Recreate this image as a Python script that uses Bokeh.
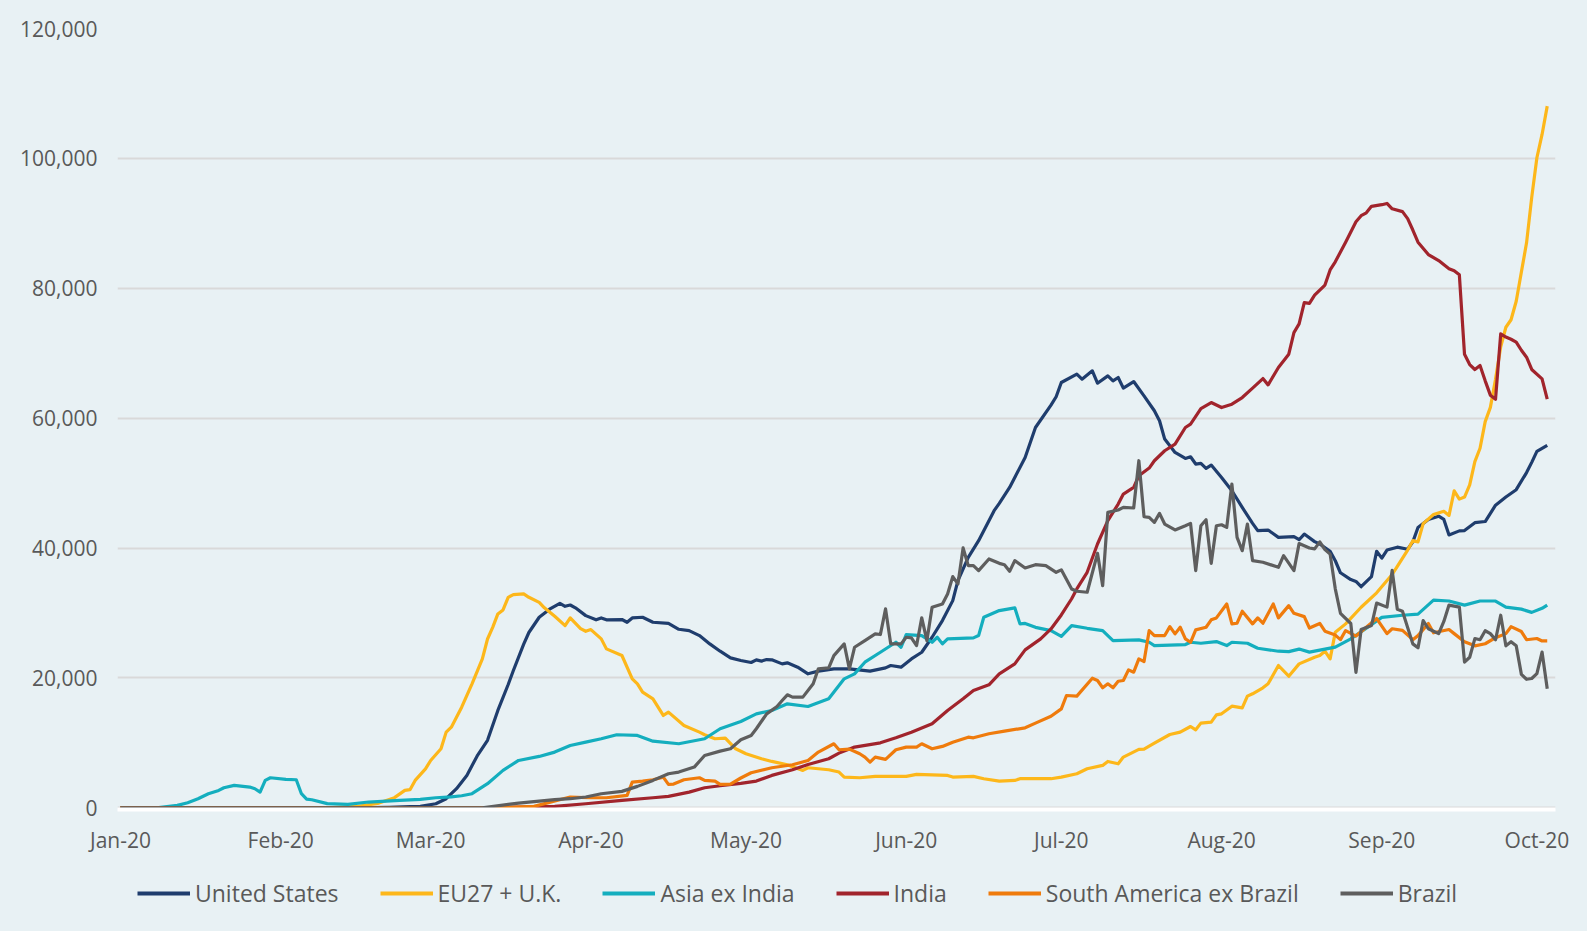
import numpy as np
import pandas as pd
from bokeh.plotting import figure
from bokeh.layouts import column
from bokeh.models import (Range1d, Legend, LegendItem, NumeralTickFormatter,
                          DatetimeTickFormatter, FixedTicker)
from bokeh.embed import file_html
from bokeh.resources import INLINE

# ---------------- data (day 0 = 2020-01-01), daily new cases ----------------
us_day = [0, 45, 52, 56, 58, 61, 63, 65, 67, 69, 71, 73, 75, 76, 78, 79, 81, 83, 85, 86, 87, 88, 90, 92, 93, 94, 97, 98, 99, 101, 103, 106, 108, 110, 112, 114, 116, 118, 120, 122, 123, 124, 125, 126, 128, 129, 131, 133, 135, 138, 141, 145, 148, 149, 151, 153, 155, 157, 159, 161, 162, 164, 166, 169, 170, 172, 175, 177, 180, 181, 182, 185, 186, 188, 189, 191, 192, 193, 194, 196, 198, 200, 201, 202, 204, 206, 207, 208, 209, 210, 211, 213, 215, 217, 219, 220, 222, 224, 227, 228, 229, 231, 232, 234, 235, 236, 238, 239, 240, 242, 243, 244, 245, 247, 249, 250, 251, 253, 255, 256, 257, 259, 260, 262, 264, 266, 268, 270, 272, 273, 274, 276]
us_val = [0, 0, 100, 200, 230, 640, 1410, 2950, 5000, 8000, 10400, 15000, 19000, 21150, 25200, 27000, 29350, 30600, 31500, 31040, 31240, 30800, 29600, 28950, 29250, 28950, 29000, 28580, 29250, 29350, 28580, 28420, 27500, 27300, 26530, 25250, 24120, 23100, 22700, 22380, 22790, 22600, 22840, 22800, 22170, 22330, 21660, 20640, 21050, 21410, 21410, 21050, 21560, 21920, 21660, 22940, 23960, 26270, 28840, 31910, 35000, 38570, 41140, 45760, 46880, 49340, 53950, 58570, 62000, 63300, 65490, 66780, 66010, 67290, 65390, 66520, 65750, 66270, 64630, 65640, 63440, 61140, 59600, 56780, 54720, 53800, 54060, 52940, 53040, 52260, 52780, 50880, 48830, 46260, 43800, 42680, 42780, 41650, 41750, 41290, 42160, 41000, 40620, 39500, 38050, 36200, 35150, 34870, 34050, 35600, 39510, 38450, 39700, 40140, 39820, 40960, 43160, 44410, 44910, 44410, 42020, 42650, 42700, 43910, 44090, 46600, 47860, 48990, 51630, 53200, 54890, 55830]

eu_day = [0, 40, 46, 50, 53, 55, 56, 57, 59, 60, 62, 63, 64, 66, 68, 70, 71, 72, 73, 74, 75, 76, 78, 79, 81, 82, 84, 86, 87, 89, 90, 91, 93, 94, 97, 99, 100, 101, 103, 105, 106, 109, 112, 113, 115, 117, 119, 121, 124, 126, 129, 132, 133, 137, 139, 140, 143, 146, 152, 154, 160, 161, 165, 167, 170, 173, 174, 180, 182, 185, 187, 190, 191, 193, 194, 197, 198, 200, 203, 205, 207, 208, 209, 211, 212, 213, 215, 217, 218, 219, 221, 222, 224, 226, 228, 231, 232, 233, 234, 235, 237, 240, 243, 246, 247, 249, 250, 251, 252, 254, 256, 257, 258, 259, 260, 261, 262, 263, 264, 265, 266, 267, 268, 269, 270, 271, 272, 273, 274, 275, 276]
eu_val = [0, 0, 230, 740, 1570, 2690, 2800, 4230, 6000, 7300, 9100, 11660, 12430, 15500, 19100, 22940, 26000, 27800, 29860, 30480, 32420, 32840, 32940, 32420, 31650, 30800, 29500, 28070, 29250, 27600, 27190, 27450, 26020, 24480, 23460, 19870, 19100, 17810, 16790, 14230, 14740, 12690, 11660, 11260, 10640, 10740, 9100, 8330, 7560, 7150, 6640, 5770, 6180, 5870, 5520, 4740, 4640, 4850, 4850, 5150, 5000, 4740, 4850, 4490, 4120, 4230, 4490, 4490, 4740, 5260, 6030, 6540, 7150, 6790, 7820, 9000, 9050, 9970, 11300, 11660, 12530, 12020, 13050, 13200, 14330, 14480, 15660, 15400, 17200, 17560, 18490, 19100, 21920, 20270, 22170, 23190, 23450, 24120, 22940, 27040, 28330, 30890, 33110, 35930, 37190, 39700, 41140, 40960, 43770, 45160, 45660, 45030, 48800, 47540, 47860, 49740, 53320, 55370, 59470, 61670, 66000, 71000, 74000, 75160, 78000, 82500, 87000, 94000, 100100, 103690, 108050]

asia_day = [0, 7, 11, 13, 15, 17, 19, 20, 22, 25, 26, 27, 28, 29, 32, 34, 35, 36, 37, 40, 44, 48, 54, 58, 61, 64, 66, 68, 71, 74, 77, 81, 84, 87, 90, 93, 96, 100, 103, 108, 113, 116, 120, 123, 126, 129, 133, 137, 140, 142, 144, 147, 150, 151, 152, 155, 157, 158, 159, 160, 165, 166, 167, 170, 173, 174, 175, 177, 180, 182, 184, 187, 190, 192, 197, 199, 200, 206, 207, 209, 212, 214, 215, 218, 220, 224, 226, 228, 230, 235, 238, 241, 244, 248, 251, 254, 257, 260, 263, 266, 268, 271, 273, 275, 276]
asia_val = [0, 0, 385, 800, 1410, 2180, 2690, 3100, 3460, 3200, 2950, 2430, 4230, 4640, 4380, 4330, 2180, 1360, 1250, 650, 540, 900, 1150, 1300, 1560, 1700, 1870, 2180, 3720, 5770, 7300, 7920, 8590, 9610, 10120, 10640, 11260, 11150, 10270, 9870, 10640, 12180, 13300, 14480, 15000, 16020, 15610, 16790, 19870, 20640, 22430, 23960, 25500, 24730, 26680, 26530, 25500, 26270, 25250, 26020, 26180, 26530, 29350, 30380, 30800, 28330, 28400, 27800, 27300, 26400, 28070, 27650, 27300, 25760, 25870, 25500, 24990, 25150, 25500, 25350, 25600, 24990, 25500, 25350, 24580, 24120, 24060, 24450, 23980, 24740, 26020, 27660, 29340, 29660, 29840, 31980, 31850, 31220, 31850, 31850, 30910, 30600, 30100, 30720, 31220]

india_day = [0, 70, 80, 84, 90, 97, 103, 106, 110, 113, 116, 120, 123, 126, 130, 133, 137, 139, 142, 147, 150, 153, 157, 160, 163, 165, 168, 170, 173, 175, 178, 180, 182, 184, 185, 187, 189, 191, 193, 194, 196, 197, 199, 200, 202, 204, 206, 207, 209, 211, 213, 215, 217, 219, 221, 222, 224, 226, 227, 228, 229, 230, 231, 233, 234, 235, 237, 239, 240, 241, 242, 244, 245, 246, 248, 249, 250, 251, 253, 255, 257, 258, 259, 260, 261, 262, 263, 264, 265, 266, 267, 268, 269, 270, 271, 272, 273, 275, 276]
india_val = [0, 0, 150, 230, 640, 1150, 1560, 1770, 2430, 3100, 3410, 3770, 4120, 5000, 5870, 6690, 7560, 8430, 9360, 10020, 10790, 11660, 12940, 15000, 16790, 18070, 18950, 20640, 22170, 24330, 26020, 27550, 29700, 32200, 33710, 36270, 40630, 44220, 46780, 48320, 49340, 51140, 52320, 53450, 54990, 56010, 58570, 59090, 61490, 62410, 61640, 62160, 63180, 64630, 66100, 65130, 67800, 69850, 73180, 74530, 77800, 77680, 78940, 80500, 82820, 84080, 87100, 90240, 91180, 91620, 92620, 92870, 93060, 92240, 91800, 90730, 88970, 87100, 85200, 84270, 83010, 82700, 82070, 69830, 68260, 67500, 68130, 65750, 63550, 62920, 72970, 72500, 72150, 71720, 70460, 69390, 67500, 66050, 62920]

sam_day = [0, 72, 80, 87, 91, 94, 98, 99, 101, 103, 105, 106, 107, 109, 112, 113, 115, 116, 118, 120, 122, 126, 130, 133, 135, 138, 139, 141, 143, 144, 145, 146, 148, 150, 152, 154, 155, 157, 159, 161, 164, 165, 168, 171, 175, 177, 180, 182, 183, 185, 188, 189, 190, 191, 192, 193, 194, 195, 196, 197, 198, 199, 200, 202, 203, 204, 205, 206, 207, 208, 210, 211, 212, 214, 215, 216, 217, 219, 220, 221, 223, 224, 226, 227, 229, 230, 232, 233, 235, 236, 237, 239, 241, 243, 245, 246, 248, 250, 251, 253, 254, 257, 258, 260, 262, 264, 266, 268, 269, 271, 272, 274, 275, 276]
sam_val = [0, 0, 230, 1670, 1560, 1560, 1920, 3970, 4120, 4330, 4740, 3610, 3670, 4330, 4640, 4230, 4120, 3610, 3670, 4600, 5400, 6180, 6640, 7300, 8590, 9870, 8950, 9050, 8330, 7820, 7050, 7820, 7460, 8950, 9360, 9360, 9870, 9100, 9460, 10120, 10890, 10790, 11410, 11820, 12330, 13050, 14100, 15250, 17300, 17200, 19960, 19610, 18490, 19100, 18490, 19500, 19610, 21250, 20890, 22940, 22530, 27300, 26530, 26530, 27910, 26790, 27810, 26020, 25500, 27400, 27810, 28950, 29250, 31400, 28330, 28430, 30270, 28330, 29250, 28430, 31400, 29250, 31140, 29960, 29450, 27700, 28400, 27200, 26600, 25900, 27300, 26450, 27800, 29150, 26830, 27580, 27330, 25900, 26520, 28390, 26960, 27460, 26830, 25580, 24950, 25270, 26200, 26830, 27900, 27150, 25890, 26080, 25700, 25700]

brazil_day = [0, 70, 77, 84, 87, 90, 93, 97, 100, 103, 106, 108, 111, 113, 116, 118, 120, 122, 123, 125, 127, 128, 129, 130, 132, 134, 135, 137, 138, 140, 141, 142, 144, 146, 147, 148, 149, 151, 152, 153, 154, 155, 156, 157, 159, 160, 161, 162, 163, 164, 165, 166, 168, 170, 171, 172, 173, 175, 177, 179, 181, 182, 184, 185, 187, 189, 190, 191, 193, 194, 196, 197, 198, 199, 200, 201, 202, 204, 206, 207, 208, 209, 210, 211, 212, 213, 214, 215, 216, 217, 218, 219, 221, 224, 225, 227, 228, 230, 231, 232, 233, 234, 235, 236, 238, 239, 240, 242, 243, 245, 246, 247, 248, 250, 251, 252, 253, 255, 256, 257, 259, 260, 261, 262, 263, 264, 265, 266, 267, 268, 269, 270, 271, 272, 273, 274, 275, 276]
brazil_val = [0, 0, 740, 1260, 1410, 1670, 2180, 2540, 3310, 4230, 5260, 5510, 6280, 8070, 8740, 9100, 10500, 11150, 12180, 14480, 15610, 16530, 17410, 17050, 17050, 19100, 21410, 21560, 23450, 25250, 21410, 24730, 25760, 26790, 26690, 30640, 25250, 25250, 26270, 26180, 24990, 29250, 25760, 30890, 31400, 32940, 35610, 34480, 40020, 37300, 37300, 36530, 38320, 37650, 37440, 36420, 38070, 36940, 37440, 37300, 36270, 36650, 33710, 33350, 33200, 39190, 34220, 45500, 45870, 46270, 46170, 53450, 44830, 44720, 43960, 45340, 43700, 42790, 43440, 43800, 36530, 43440, 44370, 37650, 43440, 43590, 43180, 49860, 41650, 39600, 43700, 38070, 37820, 37040, 38830, 36530, 40700, 40010, 39880, 40960, 39760, 39070, 33730, 29960, 28390, 20870, 27460, 28080, 31530, 30910, 36560, 30590, 30280, 25250, 24640, 28840, 27580, 26830, 28710, 31220, 30910, 22440, 23190, 26070, 25890, 27270, 26830, 25890, 29660, 24950, 25580, 24950, 20550, 19800, 19920, 20670, 23990, 18350]

series_names = ["United States", "EU27 + U.K.", "Asia ex India", "India",
                "South America ex Brazil", "Brazil"]
series_days = [us_day, eu_day, asia_day, india_day, sam_day, brazil_day]
series_vals = [us_val, eu_val, asia_val, india_val, sam_val, brazil_val]
series_colors = ["#1F3D6D", "#FDB71A", "#14AEBE", "#A1242C", "#EF7B0C", "#5E5E5E"]

tick_months = ["2020-01-01", "2020-02-01", "2020-03-01", "2020-04-01", "2020-05-01",
               "2020-06-01", "2020-07-01", "2020-08-01", "2020-09-01", "2020-10-01"]
y_ticks = [0, 20000, 40000, 60000, 80000, 100000, 120000]

# ---------------- figure ----------------
BG = "#E8F1F4"
TXT = "#595959"
base = pd.Timestamp("2020-01-01")

def ms(ts):
    return ts.value / 1e6

x_start = ms(base + pd.Timedelta(days=-0.58))
x_end = ms(base + pd.Timedelta(days=277.6))

H1 = 865
p = figure(width=1587, height=H1, x_axis_type="datetime",
           output_backend="svg", toolbar_location=None,
           x_range=Range1d(x_start, x_end), y_range=Range1d(-250, 120000),
           min_border_left=117, min_border_right=32, min_border_top=28,
           min_border_bottom=H1 - 809)
p.background_fill_color = BG
p.border_fill_color = BG
p.outline_line_color = None

p.xgrid.grid_line_color = None
p.ygrid.grid_line_color = "#D9D9D9"
p.ygrid.grid_line_width = 2
p.yaxis.ticker = FixedTicker(ticks=y_ticks)
p.yaxis.formatter = NumeralTickFormatter(format="0,0")
p.yaxis.axis_line_color = None
p.yaxis.major_tick_line_color = None
p.yaxis.minor_tick_line_color = None
p.yaxis.major_label_standoff = 14
p.yaxis.major_label_text_font = "Open Sans"
p.yaxis.major_label_text_font_size = "21px"
p.yaxis.major_label_text_color = TXT

p.xaxis.ticker = FixedTicker(ticks=[ms(pd.Timestamp(m)) for m in tick_months])
fmt = "%b-%y"
p.xaxis.formatter = DatetimeTickFormatter(days=fmt, months=fmt, years=fmt,
                                          hours=fmt, minutes=fmt, seconds=fmt,
                                          milliseconds=fmt, microseconds=fmt,
                                          hourmin=fmt, minsec=fmt)
p.xaxis.axis_line_color = "white"
p.xaxis.axis_line_width = 4
p.xaxis.major_tick_line_color = None
p.xaxis.minor_tick_line_color = None
p.xaxis.major_label_standoff = 10
p.xaxis.major_label_text_font = "Open Sans"
p.xaxis.major_label_text_font_size = "21px"
p.xaxis.major_label_text_color = TXT

for d, v, c in zip(series_days, series_vals, series_colors):
    xs = base + pd.to_timedelta(d, unit="D")
    p.line(x=xs, y=v, line_color=c, line_width=3.2, line_join="round")

# ---------------- legend strip ----------------
H2 = 931 - H1
pl = figure(width=1587, height=H2, output_backend="svg", toolbar_location=None,
            x_range=Range1d(0, 1), y_range=Range1d(0, 1),
            min_border_left=117, min_border_right=32, min_border_top=0,
            min_border_bottom=0, x_axis_location=None, y_axis_location=None)
pl.background_fill_alpha = 0
pl.border_fill_color = BG
pl.outline_line_color = None
pl.grid.visible = False

items = []
for name, c in zip(series_names, series_colors):
    # off-range placeholder renderers: they only supply the legend swatches
    r = pl.line(x=[-5, -4], y=[-5, -5], line_color=c, line_width=4)
    items.append(LegendItem(label=name, renderers=[r]))

legend = Legend(items=items, orientation="horizontal", location=(20, 22),
                padding=0, margin=0, spacing=41, label_standoff=5,
                glyph_width=53, glyph_height=30, label_height=30,
                border_line_color=None, background_fill_alpha=0,
                label_text_font="Open Sans", label_text_font_size="23px",
                label_text_color=TXT)
pl.add_layout(legend, "center")

layout = column(p, pl, spacing=0, styles={"background-color": BG})
open("out.html", "w").write(file_html(layout, INLINE))
